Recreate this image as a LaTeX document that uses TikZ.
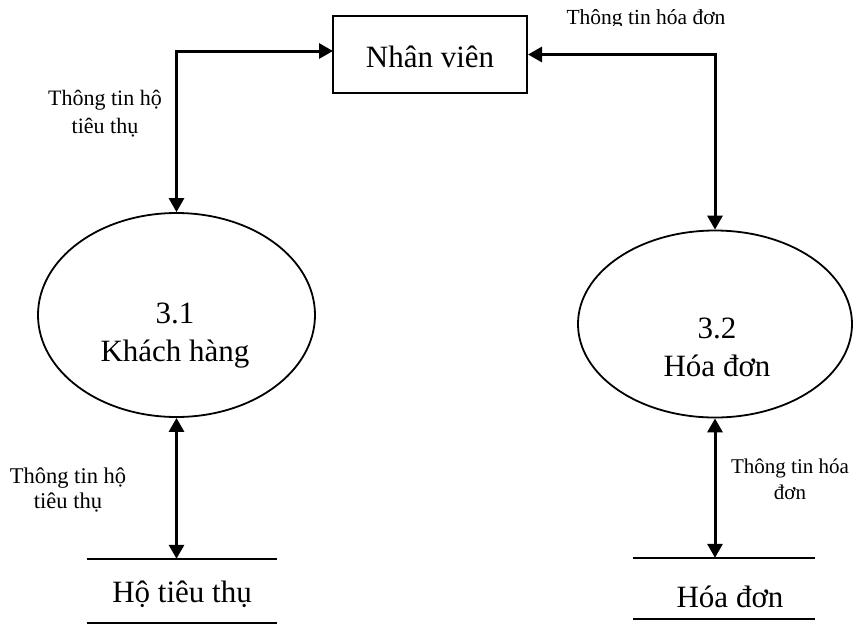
\documentclass[tikz,border=0pt]{standalone}
\usepackage{fontspec}
\setmainfont{Liberation Serif}
\usetikzlibrary{shapes.geometric,arrows.meta}
\tikzset{
  procbox/.style={draw,line width=2pt,minimum width=194pt,minimum height=77pt,inner sep=0pt},
  process/.style={draw,ellipse,line width=1.8pt,inner sep=0pt},
  store/.style={draw=none,inner sep=0pt},
  storeline/.style={line width=2pt},
  flow/.style={line width=3pt,{Triangle[length=14pt,width=15pt]}-{Triangle[length=14pt,width=15pt]}},
  bigtxt/.style={anchor=base,inner sep=0pt,font=\fontsize{31}{35}\selectfont},
  smalltxt/.style={anchor=base,inner sep=0pt,align=center,font=\fontsize{21.5}{27}\selectfont},
}
\begin{document}
\begin{tikzpicture}[x=1pt,y=-1pt]
\useasboundingbox (0,0) rectangle (855,625);
% entity
\node[procbox] (nv) at (430,54.5) {};
\node[bigtxt] (nvt) at (430,67) {Nhân viên};
% processes
\node[process,minimum width=277pt,minimum height=204pt] (e31) at (176.5,315) {};
\node[bigtxt] (t31a) at (175,323) {3.1};
\node[bigtxt] (t31b) at (175,361) {Khách hàng};
\node[process,minimum width=274pt,minimum height=187pt] (e32) at (715,324) {};
\node[bigtxt] (t32a) at (717,338) {3.2};
\node[bigtxt] (t32b) at (717,376) {Hóa đơn};
% data stores
\node[store,minimum width=190pt,minimum height=64pt] (ds1) at (182,591) {};
\draw[storeline] (ds1.north west) -- (ds1.north east);
\draw[storeline] (ds1.south west) -- (ds1.south east);
\node[bigtxt] (ds1t) at (182,602) {Hộ tiêu thụ};
\node[store,minimum width=182pt,minimum height=61pt] (ds2) at (724,588.5) {};
\draw[storeline] (ds2.north west) -- (ds2.north east);
\draw[storeline] (ds2.south west) -- (ds2.south east);
\node[bigtxt] (ds2t) at (730,607) {Hóa đơn};
% connectors
\coordinate (nvl) at (333,51);
\draw[flow] (e31.north) |- (nvl);
\draw[flow] (e32.north) |- (nv.east);
\draw[flow] (e31.south) -- (e31.south |- ds1.north);
\draw[flow] (e32.south) -- (e32.south |- ds2.north);
% labels (base anchor = baseline of last line)
\begin{scope}
\clip (500,0) rectangle (800,25);
\node[smalltxt] (l1) at (646,24) {Thông tin hóa đơn};
\end{scope}
\node[smalltxt,font=\fontsize{22}{28}\selectfont] (l2) at (105,133) {Thông tin hộ\\tiêu thụ};
\node[smalltxt,font=\fontsize{22.5}{25}\selectfont] (l3) at (68,508) {Thông tin hộ\\tiêu thụ};
\node[smalltxt,font=\fontsize{21}{26}\selectfont] (l4) at (790,499) {Thông tin hóa\\đơn};
\end{tikzpicture}
\end{document}
